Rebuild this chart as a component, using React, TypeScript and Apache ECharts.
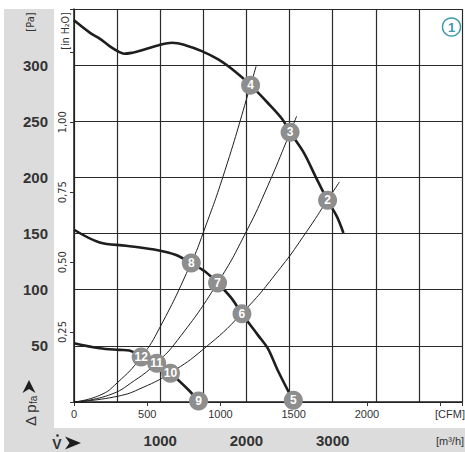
import React, { useEffect, useRef } from "react";
import * as echarts from "echarts";

// Axis ranges and tick labels
const flowMax = 4500; // m3/h
const paMax = 350; // Pa
const m3hPerCfm = 1.699;
const paPerInH2O = 249.089;
const flowLabels = [1000, 2000, 3000];
const cfmLabels = [0, 500, 1000, 1500, 2000];
const paLabels = [50, 100, 150, 200, 250, 300];
const inH2OLabels = [0.25, 0.5, 0.75, 1.0];

// Fan characteristic curves [m3/h, Pa]
const curveHigh: [number, number][] = [
  [0, 340], [183, 329], [298, 323.6], [412, 317], [527, 311.6], [584, 310.2],
  [679, 311.1], [756, 312.5], [985, 317.8], [1138, 320], [1291, 317.8],
  [1482, 312.5], [1673, 305.1], [1864, 294.6], [2048, 282.2], [2246, 266.5],
  [2418, 251.6], [2506, 240.2], [2666, 221.9], [2800, 201], [2941, 179.6],
  [3048, 165.3], [3125, 150.5],
];
const curveMid: [number, number][] = [
  [0, 153.4], [298, 142.1], [604, 139.2], [985, 135], [1176, 131.1],
  [1360, 123.7], [1520, 116.2], [1665, 105.9], [1826, 92.5], [1948, 78.5],
  [2131, 59.8], [2246, 47.9], [2361, 28.5], [2550, 0],
];
const curveLow: [number, number][] = [
  [0, 52.4], [298, 47.9], [527, 46.4], [642, 45.8], [779, 40.1], [959, 34.5],
  [1119, 25.6], [1329, 10.7], [1444, 0.9],
];

// System resistance curves [m3/h, Pa]
const systemA: [number, number][] = [
  [0, 0], [300, 6], [500, 17], [779, 40], [1000, 67], [1360, 124], [1500, 151],
  [1750, 206], [2048, 282], [2112, 299],
];
const systemB: [number, number][] = [
  [0, 0], [400, 6], [700, 19], [959, 35], [1200, 55], [1665, 106], [2000, 152],
  [2250, 193], [2506, 240], [2582, 254.5],
];
const systemC: [number, number][] = [
  [0, 0], [500, 5], [800, 13], [1119, 26], [1500, 47], [1948, 79], [2400, 120],
  [2700, 152], [2941, 180], [3079, 196],
];

// Operating points
const pointIds = ["2", "3", "4", "5", "6", "7", "8", "9", "10", "11", "12"];
const pointFlow = [2941, 2506, 2048, 2544, 1948, 1665, 1360, 1444, 1119, 959, 779];
const pointPa = [179.6, 240.2, 282.2, 1.5, 78.5, 105.9, 123.7, 0.9, 25.6, 34.5, 40.1];

const FONT = "'Liberation Sans', Arial, Helvetica, sans-serif";
const NARROW = "'Liberation Sans Narrow', 'Arial Narrow', 'DejaVu Sans Condensed', 'Liberation Sans', sans-serif";
const INK = "#1e1e1e";
const GRIDC = "#2a2a2a";
const TEXTC = "#333333";
const BAND = "#dcdcdc";
const TEAL = "#3a9aaa";

export default function App() {
  const ref = useRef<HTMLDivElement>(null);
  useEffect(() => {
    if (!ref.current) return;
    const chart = echarts.init(ref.current, null, { renderer: "svg" });
    const gridBox = { left: 74, top: 9, right: -2, height: 393 };
    const thin = (data: [number, number][]) => ({
      type: "line",
      data,
      smooth: true,
      showSymbol: false,
      symbol: "none",
      silent: true,
      lineStyle: { color: INK, width: 1 },
      z: 3,
    });
    const thick = (data: [number, number][]) => ({
      type: "line",
      data,
      smooth: 0.35,
      showSymbol: false,
      symbol: "none",
      silent: true,
      lineStyle: { color: INK, width: 2.6 },
      z: 4,
    });
    chart.setOption({
      animation: false,
      backgroundColor: "transparent",
      textStyle: { fontFamily: FONT },
      grid: [gridBox, gridBox],
      xAxis: [
        {
          type: "value",
          gridIndex: 0,
          min: 0,
          max: flowMax,
          interval: 500,
          axisLine: { show: true, onZero: false, lineStyle: { color: INK, width: 1.5 } },
          axisTick: { show: false },
          splitLine: { show: true, lineStyle: { color: GRIDC, width: 1.2 } },
          axisLabel: {
            margin: 31,
            fontSize: 15,
            fontWeight: "bold",
            color: TEXTC,
            fontFamily: FONT,
            formatter: (v: number) => (flowLabels.includes(v) ? String(v) : ""),
          },
        },
        {
          type: "value",
          gridIndex: 1,
          min: 0,
          max: flowMax / m3hPerCfm,
          interval: 500,
          axisLine: { show: false },
          axisTick: { show: true, length: 4, lineStyle: { color: TEXTC, width: 1 } },
          splitLine: { show: false },
          axisLabel: {
            margin: 6,
            fontSize: 11,
            color: TEXTC,
            fontFamily: FONT,
            formatter: (v: number) => (cfmLabels.includes(v) ? String(v) : ""),
          },
        },
      ],
      yAxis: [
        {
          type: "value",
          gridIndex: 0,
          min: 0,
          max: paMax,
          interval: 50,
          axisLine: { show: true, onZero: false, lineStyle: { color: INK, width: 1.5 } },
          axisTick: { show: false },
          splitLine: { show: true, lineStyle: { color: GRIDC, width: 1.2 } },
          axisLabel: {
            margin: 26,
            fontSize: 15,
            fontWeight: "bold",
            color: TEXTC,
            fontFamily: FONT,
            formatter: (v: number) => (paLabels.includes(v) ? String(v) : ""),
          },
        },
        {
          type: "value",
          gridIndex: 1,
          min: 0,
          max: paMax / paPerInH2O,
          interval: 0.25,
          axisLine: { show: false },
          axisTick: { show: true, length: 4, lineStyle: { color: TEXTC, width: 1 } },
          splitLine: { show: false },
          axisLabel: {
            rotate: 90,
            margin: 6,
            fontSize: 11,
            color: TEXTC,
            fontFamily: NARROW,
            formatter: (v: number) =>
              inH2OLabels.includes(v) ? v.toFixed(2).replace(".", ",") : "",
          },
        },
      ],
      series: [
        thin(systemA),
        thin(systemB),
        thin(systemC),
        thick(curveHigh),
        thick(curveMid),
        thick(curveLow),
        {
          type: "scatter",
          data: pointIds.map((id, i) => ({ value: [pointFlow[i], pointPa[i]], name: id })),
          symbol: "circle",
          symbolSize: 19,
          itemStyle: { color: "#8e8e8e", opacity: 1 },
          label: {
            show: true,
            position: "inside",
            formatter: (p: any) => p.name,
            color: "#ffffff",
            fontSize: 12,
            fontWeight: "bold",
            fontFamily: FONT,
          },
          z: 6,
        },
      ],
      graphic: [
        { type: "rect", z: -10, shape: { x: 4, y: 9, width: 50, height: 419 }, style: { fill: BAND } },
        { type: "rect", z: -10, shape: { x: 4, y: 428, width: 461, height: 24 }, style: { fill: BAND } },
        {
          type: "text", x: 30, y: 22, rotation: Math.PI / 2,
          style: { text: "[Pa]", fontSize: 11, fill: TEXTC, fontFamily: NARROW, align: "center", verticalAlign: "middle" },
        },
        {
          type: "text", x: 65, y: 31, rotation: Math.PI / 2,
          style: { text: "[in H₂O]", fontSize: 10.5, fill: TEXTC, fontFamily: NARROW, align: "center", verticalAlign: "middle" },
        },
        {
          type: "text", x: 30, y: 411, rotation: Math.PI / 2,
          style: {
            text: "{a|Δ p}{b|fa}",
            align: "center", verticalAlign: "middle", fill: TEXTC,
            rich: {
              a: { fontSize: 15, fontFamily: FONT, fill: TEXTC },
              b: { fontSize: 10, fontFamily: FONT, fill: TEXTC, padding: [7, 0, 0, 0] },
            },
          },
        },
        { type: "polygon", shape: { points: [[29, 380], [35.5, 393], [29, 389], [22.5, 393]] }, style: { fill: INK } },
        {
          type: "text", x: 57, y: 444,
          style: { text: "V", fontSize: 14, fontWeight: "bold", fill: TEXTC, fontFamily: FONT, align: "center", verticalAlign: "middle" },
        },
        { type: "circle", shape: { cx: 57.5, cy: 435.5, r: 1.3 }, style: { fill: TEXTC } },
        { type: "polygon", shape: { points: [[81, 443], [65, 436.5], [69.5, 443], [65, 449.5]] }, style: { fill: INK } },
        {
          type: "text", x: 450, y: 441,
          style: { text: "[m³/h]", fontSize: 11, fill: TEXTC, fontFamily: FONT, align: "center", verticalAlign: "middle" },
        },
        {
          type: "text", x: 450, y: 414,
          style: { text: "[CFM]", fontSize: 11, fill: TEXTC, fontFamily: FONT, align: "center", verticalAlign: "middle" },
        },
        { type: "circle", shape: { cx: 451.5, cy: 27, r: 9 }, style: { fill: "#ffffff", stroke: TEAL, lineWidth: 1.5 } },
        {
          type: "text", x: 451.5, y: 27.5,
          style: { text: "1", fontSize: 13, fontWeight: "bold", fill: TEAL, fontFamily: FONT, align: "center", verticalAlign: "middle" },
        },
      ],
    });
    return () => chart.dispose();
  }, []);
  return (
    <div
      ref={ref}
      style={{ position: "absolute", left: 0, top: 0, width: 465, height: 452, background: "#ffffff" }}
    />
  );
}
